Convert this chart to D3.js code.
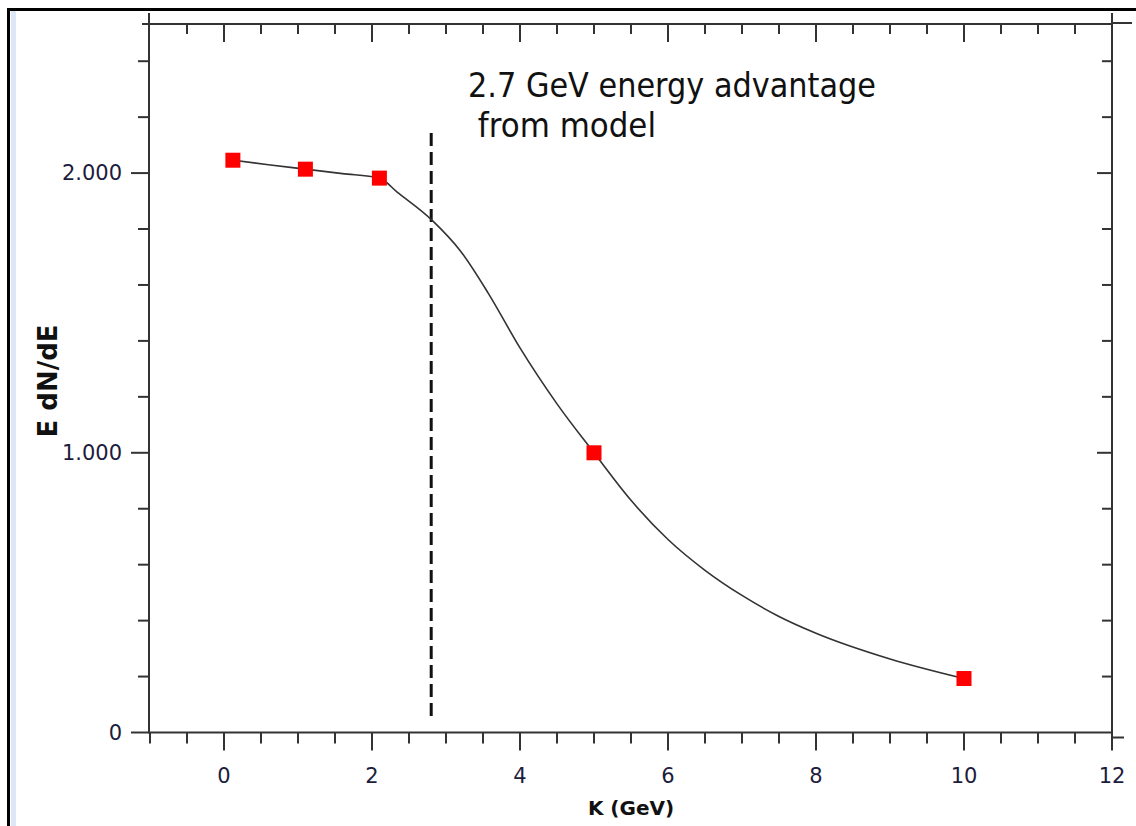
<!DOCTYPE html>
<html lang="en">
  <head>
    <meta charset="UTF-8" />
    <title>E dN/dE vs kappa</title>
    <script src="https://d3js.org/d3.v7.min.js"></script>
    <style>
      body {
        margin: 0;
        background: #ffffff;
        font-family: Tahoma, 'DejaVu Sans', sans-serif;
      }
      svg {
        display: block;
      }
    </style>
  </head>
  <body>
    <div id="chart"></div>
    <script>
      // measured points (red squares)
      const pointX = [0.12, 1.1, 2.1, 5.0, 10.0];
      const pointY = [2.046, 2.014, 1.982, 1.0, 0.193];

      // smooth model curve
      const curveX = [0.12, 0.6, 1.1, 1.6, 2.1, 2.34, 2.81, 3.2, 3.57, 4.0, 4.5, 5.0, 5.5, 6.0, 6.5, 7.0, 7.5, 8.0, 9.0, 10.0];
      const curveY = [2.046, 2.03, 2.014, 1.998, 1.982, 1.932, 1.832, 1.72, 1.571, 1.375, 1.175, 1.0, 0.83, 0.69, 0.58, 0.49, 0.415, 0.355, 0.263, 0.193];

      // vertical dashed marker
      const markerX = 2.8;
      const markerY = [0.043, 2.143];

      const xTickLabels = [0, 2, 4, 6, 8, 10, 12];
      const yTickLabels = [0, 1, 2];
      const annotation = ['2.7 GeV energy advantage', ' from model'];

      const W = 1136,
        H = 826;
      const mLeft = 150,
        mRight = 1112,
        mTop = 24,
        mBottom = 732.5;

      const svg = d3
        .select('#chart')
        .append('svg')
        .attr('width', W)
        .attr('height', H);

      // window frame
      svg.append('rect').attr('x', 11).attr('y', 11).attr('width', 5).attr('height', H).attr('fill', '#dce8f6');
      svg.append('line').attr('x1', 8.5).attr('x2', 8.5).attr('y1', 8).attr('y2', H).attr('stroke', '#000').attr('stroke-width', 3);
      svg.append('line').attr('x1', 7).attr('x2', W).attr('y1', 9.5).attr('y2', 9.5).attr('stroke', '#000').attr('stroke-width', 3);

      const x = d3.scaleLinear().domain([-1, 12]).range([mLeft, mRight]);
      const y = d3.scaleLinear().domain([0, 2.533]).range([mBottom, mTop]);

      const axisColor = '#333';
      const labelColor = '#1c1c3c';

      const xTicks = d3.range(-1, 12.01, 0.5);
      const yTicks = d3.range(0, 2.41, 0.2);
      const isMajorX = (v) => Math.abs(v / 2 - Math.round(v / 2)) < 1e-6;
      const isMajorY = (v) => Math.abs(v - Math.round(v)) < 1e-6;

      // bottom axis
      const gb = svg.append('g').attr('transform', `translate(0,${mBottom})`);
      gb.append('line').attr('x1', mLeft - 1).attr('x2', mRight).attr('stroke', axisColor).attr('stroke-width', 2);
      gb.selectAll('.t')
        .data(xTicks)
        .join('line')
        .attr('x1', (d) => x(d))
        .attr('x2', (d) => x(d))
        .attr('y1', 0)
        .attr('y2', (d) => (isMajorX(d) ? 18 : 11))
        .attr('stroke', axisColor)
        .attr('stroke-width', 2);
      gb.selectAll('text')
        .data(xTickLabels)
        .join('text')
        .attr('x', (d) => x(d))
        .attr('y', 50)
        .attr('text-anchor', 'middle')
        .attr('font-size', 21)
        .attr('fill', labelColor)
        .text((d) => d);

      // top axis (ticks inward)
      const gt = svg.append('g').attr('transform', `translate(0,${mTop})`);
      gt.append('line').attr('x1', mLeft - 8).attr('x2', mRight).attr('stroke', axisColor).attr('stroke-width', 2);
      gt.selectAll('.t')
        .data(xTicks.filter((d) => d > -1 && d < 12))
        .join('line')
        .attr('x1', (d) => x(d))
        .attr('x2', (d) => x(d))
        .attr('y1', 0)
        .attr('y2', (d) => (isMajorX(d) ? 18 : 10))
        .attr('stroke', axisColor)
        .attr('stroke-width', 2);

      // left axis
      const gl = svg.append('g').attr('transform', `translate(${mLeft - 1},0)`);
      gl.append('line').attr('y1', 13).attr('y2', mBottom + 1).attr('stroke', axisColor).attr('stroke-width', 2);
      gl.selectAll('.t')
        .data(yTicks)
        .join('line')
        .attr('y1', (d) => y(d))
        .attr('y2', (d) => y(d))
        .attr('x1', 0)
        .attr('x2', (d) => (isMajorY(d) ? -18 : -11))
        .attr('stroke', axisColor)
        .attr('stroke-width', 2);
      gl.selectAll('text')
        .data(yTickLabels)
        .join('text')
        .attr('x', -27)
        .attr('y', (d) => y(d) + 7)
        .attr('text-anchor', 'end')
        .attr('font-size', 21)
        .attr('fill', labelColor)
        .text((d) => (d === 0 ? '0' : d3.format('.3f')(d)));

      // right axis (ticks inward)
      const gr = svg.append('g').attr('transform', `translate(${mRight},0)`);
      gr.append('line').attr('y1', 13).attr('y2', mBottom + 12).attr('stroke', axisColor).attr('stroke-width', 2);
      gr.append('line').attr('x1', 0).attr('x2', 20).attr('y1', mTop - 1).attr('y2', mTop - 1).attr('stroke', axisColor).attr('stroke-width', 2);
      gr.append('line').attr('x1', 0).attr('x2', 12).attr('y1', mBottom + 5).attr('y2', mBottom + 5).attr('stroke', axisColor).attr('stroke-width', 2);
      gr.selectAll('.t')
        .data(yTicks.filter((d) => d > 0))
        .join('line')
        .attr('y1', (d) => y(d))
        .attr('y2', (d) => y(d))
        .attr('x1', 0)
        .attr('x2', (d) => (isMajorY(d) ? -15 : -10))
        .attr('stroke', axisColor)
        .attr('stroke-width', 2);

      // axis titles
      svg
        .append('text')
        .attr('x', (mLeft + mRight) / 2)
        .attr('y', 815)
        .attr('text-anchor', 'middle')
        .attr('font-size', 20)
        .attr('font-weight', 'bold')
        .attr('fill', '#111')
        .text('K (GeV)');
      svg
        .append('text')
        .attr('transform', 'translate(57,381) rotate(-90)')
        .attr('text-anchor', 'middle')
        .attr('font-size', 26)
        .attr('font-weight', 'bold')
        .attr('fill', '#111')
        .text('E dN/dE');

      // dashed vertical line
      svg
        .append('line')
        .attr('x1', x(markerX))
        .attr('x2', x(markerX))
        .attr('y1', y(markerY[1]))
        .attr('y2', y(markerY[0]))
        .attr('stroke', '#111')
        .attr('stroke-width', 3)
        .attr('stroke-dasharray', '13,6');

      // model curve
      const line = d3
        .line()
        .x((d) => x(d[0]))
        .y((d) => y(d[1]))
        .curve(d3.curveMonotoneX);
      svg
        .append('path')
        .datum(curveX.map((v, i) => [v, curveY[i]]))
        .attr('d', line)
        .attr('fill', 'none')
        .attr('stroke', '#333')
        .attr('stroke-width', 1.6);

      // red squares
      const s = 15;
      svg
        .selectAll('.pt')
        .data(pointX.map((v, i) => [v, pointY[i]]))
        .join('rect')
        .attr('x', (d) => x(d[0]) - s / 2)
        .attr('y', (d) => y(d[1]) - s / 2)
        .attr('width', s)
        .attr('height', s)
        .attr('fill', '#ff0000');

      // annotation
      const ann = svg.append('text').attr('font-size', 34).attr('fill', '#111');
      ann.append('tspan').attr('x', 468).attr('y', 97).attr('textLength', 408).attr('lengthAdjust', 'spacingAndGlyphs').text(annotation[0]);
      ann.append('tspan').attr('x', 468).attr('y', 137).attr('textLength', 188).attr('lengthAdjust', 'spacingAndGlyphs').style('white-space', 'pre').text(annotation[1]);
    </script>
  </body>
</html>
